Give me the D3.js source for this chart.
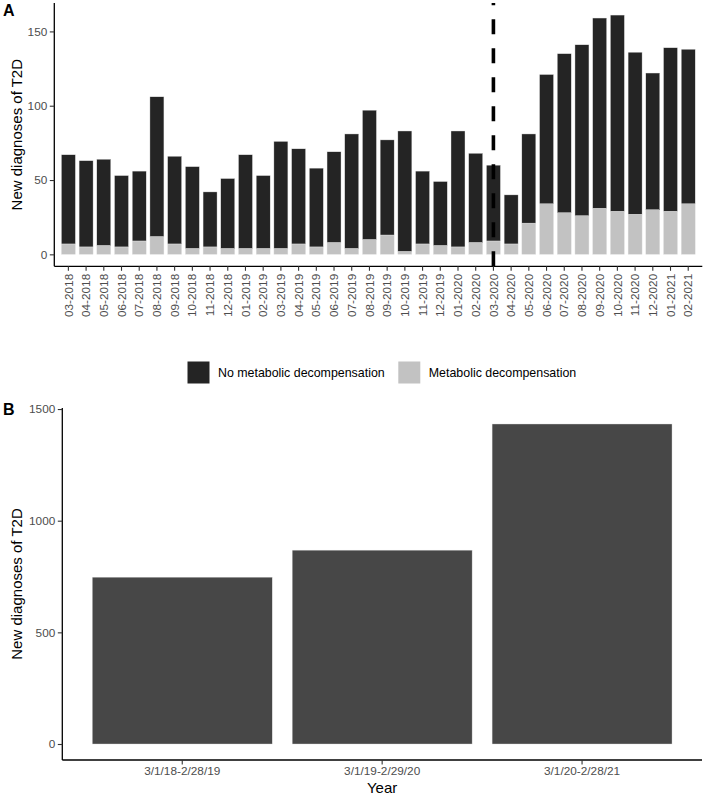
<!DOCTYPE html>
<html>
<head>
<meta charset="utf-8">
<script src="https://cdn.jsdelivr.net/npm/d3@7"></script>
<style>
  html, body { margin: 0; padding: 0; background: #fff; }
  svg { display: block; }
  text { font-family: "Liberation Sans", Arial, Helvetica, sans-serif; }
</style>
</head>
<body>
<svg id="chart" width="705" height="796"></svg>
<script>
// ---------------- data ----------------
const months = ["03-2018","04-2018","05-2018","06-2018","07-2018","08-2018","09-2018","10-2018","11-2018","12-2018",
  "01-2019","02-2019","03-2019","04-2019","05-2019","06-2019","07-2019","08-2019","09-2019","10-2019","11-2019","12-2019",
  "01-2020","02-2020","03-2020","04-2020","05-2020","06-2020","07-2020","08-2020","09-2020","10-2020","11-2020","12-2020",
  "01-2021","02-2021"];
const metabolic = [7,5,6,5,9,12,7,4,5,4,4,4,4,7,5,8,4,10,13,2,7,6,5,8,9,7,21,34,28,26,31,29,27,30,29,34];
const noMetabolic = [60,58,58,48,47,94,59,55,37,47,63,49,72,64,53,61,77,87,64,81,49,43,78,60,51,33,60,87,107,115,128,132,109,92,110,104];
const seriesNames = ["No metabolic decompensation", "Metabolic decompensation"];
const cutoffMonth = "03-2020";
const yTicksA = [0, 50, 100, 150];

const years = ["3/1/18-2/28/19", "3/1/19-2/29/20", "3/1/20-2/28/21"];
const yearTotals = [747, 868, 1433];
const yTicksB = [0, 500, 1000, 1500];

// ---------------- styles ----------------
const darkCol = "#242424", lightCol = "#c2c2c2", barBCol = "#474747";
const tickTextCol = "#4d4d4d";

const svg = d3.select("#chart");

// ============ Panel A ============
const A = { left: 54.3, right: 702.3, top: 3.1, bottom: 266.3 };
const rows = months.map((m, i) => ({ month: m, meta: metabolic[i], nometa: noMetabolic[i] }));
const stack = d3.stack().keys(["meta", "nometa"]);
const stacked = stack(rows);
const maxA = d3.max(rows, d => d.meta + d.nometa);

const xA = d3.scaleBand().domain(months).range([A.left, A.right]).paddingInner(0.21).paddingOuter(0.40);
const yA = d3.scaleLinear().domain([-0.05 * maxA, 1.05 * maxA]).range([A.bottom, A.top]);

const gA = svg.append("g");
const colorA = d3.scaleOrdinal().domain(["meta", "nometa"]).range([lightCol, darkCol]);
gA.selectAll("g.layer").data(stacked).join("g").attr("class", "layer")
  .attr("fill", d => colorA(d.key))
  .selectAll("rect").data(d => d).join("rect")
  .attr("x", d => xA(d.data.month))
  .attr("width", xA.bandwidth())
  .attr("y", d => yA(d[1]))
  .attr("height", d => yA(d[0]) - yA(d[1]))
  .attr("stroke", "#e6e6e6").attr("stroke-width", 0.4);

// dashed cutoff line
const xc = xA(cutoffMonth) + xA.bandwidth() / 2;
gA.append("line")
  .attr("x1", xc).attr("x2", xc).attr("y1", A.bottom).attr("y2", A.top)
  .attr("stroke", "#000").attr("stroke-width", 3.6).attr("stroke-dasharray", "15,14");

// axes A
const fmt = d3.format("d");
const yAxisA = d3.axisLeft(yA).tickValues(yTicksA).tickFormat(fmt).tickSize(4.5).tickPadding(2.5);
const gyA = gA.append("g").attr("transform", `translate(${A.left},0)`).call(yAxisA);
const xAxisA = d3.axisBottom(xA).tickSize(4.5).tickPadding(2.5);
const gxA = gA.append("g").attr("transform", `translate(0,${A.bottom})`).call(xAxisA);

function styleAxis(g) {
  g.select(".domain").attr("stroke", "#000").attr("stroke-width", 1.3);
  g.selectAll(".tick line").attr("stroke", "#333").attr("stroke-width", 1.1);
  g.selectAll(".tick text").attr("fill", tickTextCol).style("font-size", "11.8px")
    .style("font-family", '"Liberation Sans", Arial, sans-serif');
}
styleAxis(gyA); styleAxis(gxA);
gyA.select(".domain").attr("d", `M0,${A.top}V${A.bottom}`);
gxA.select(".domain").attr("d", `M${A.left},0H${A.right}`);
gxA.selectAll(".tick text")
  .attr("transform", "rotate(-90)")
  .attr("text-anchor", "end")
  .attr("x", -7.5).attr("y", 0).attr("dy", "0.35em");

svg.append("text").attr("x", 3).attr("y", 16).text("A")
  .style("font-weight", "bold").style("font-size", "16px").attr("fill", "#000");
svg.append("text")
  .attr("transform", `translate(22,${(A.top + A.bottom) / 2}) rotate(-90)`)
  .attr("text-anchor", "middle").style("font-size", "15px").attr("fill", "#000")
  .text("New diagnoses of T2D");

// ---------------- legend ----------------
const legend = svg.append("g");
const legY = 361.5, key = 22;
const legItems = [
  { name: seriesNames[0], col: darkCol, x: 187.5 },
  { name: seriesNames[1], col: lightCol, x: 398.3 }
];
legItems.forEach(it => {
  legend.append("rect").attr("x", it.x).attr("y", legY).attr("width", key).attr("height", key).attr("fill", it.col);
  legend.append("text").attr("x", it.x + key + 8.5).attr("y", legY + key / 2).attr("dy", "0.35em")
    .style("font-size", "12.4px").attr("fill", "#000").text(it.name);
});

// ============ Panel B ============
const B = { left: 62.3, right: 702, top: 408, bottom: 760 };
const maxB = d3.max(yearTotals);
const xB = d3.scaleBand().domain(years).range([B.left, B.right]).paddingInner(0.1).paddingOuter(0.15);
const yB = d3.scaleLinear().domain([-0.05 * maxB, 1.05 * maxB]).range([B.bottom, B.top]);

const gB = svg.append("g");
gB.selectAll("rect").data(years).join("rect")
  .attr("x", d => xB(d)).attr("width", xB.bandwidth())
  .attr("y", (d, i) => yB(yearTotals[i]))
  .attr("height", (d, i) => yB(0) - yB(yearTotals[i]))
  .attr("fill", barBCol).attr("stroke", "#dcdcdc").attr("stroke-width", 0.4);

const gyB = gB.append("g").attr("transform", `translate(${B.left},0)`)
  .call(d3.axisLeft(yB).tickValues(yTicksB).tickFormat(fmt).tickSize(4.5).tickPadding(2.5));
const gxB = gB.append("g").attr("transform", `translate(0,${B.bottom})`)
  .call(d3.axisBottom(xB).tickSize(4.5).tickPadding(2.5));
styleAxis(gyB); styleAxis(gxB);
gyB.select(".domain").attr("d", `M0,${B.top}V${B.bottom}`);
gxB.select(".domain").attr("d", `M${B.left},0H${B.right}`);

svg.append("text").attr("x", 3).attr("y", 415).text("B")
  .style("font-weight", "bold").style("font-size", "16px").attr("fill", "#000");
svg.append("text")
  .attr("transform", `translate(22,${(B.top + B.bottom) / 2}) rotate(-90)`)
  .attr("text-anchor", "middle").style("font-size", "15px").attr("fill", "#000")
  .text("New diagnoses of T2D");
svg.append("text").attr("x", (B.left + B.right) / 2).attr("y", 793)
  .attr("text-anchor", "middle").style("font-size", "15px").attr("fill", "#000").text("Year");
</script>
</body>
</html>
